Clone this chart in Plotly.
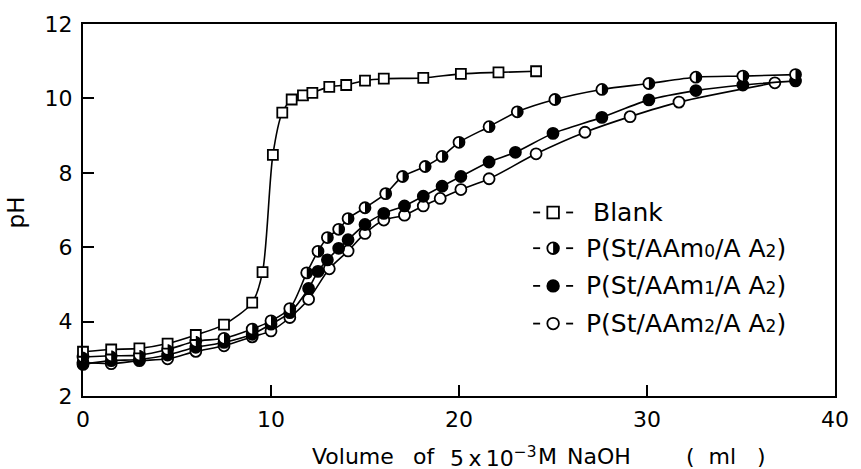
import plotly.graph_objects as go

# Titration of the copolymer solutions with 5x10^-3 M NaOH
blank_x = [0, 1.5, 3.0, 4.5, 6.0, 7.5, 9.0, 9.55, 10.1, 10.6, 11.1, 11.7, 12.2,
           13.1, 14.0, 15.0, 16.0, 18.1, 20.1, 22.1, 24.1]
blank_y = [3.19, 3.25, 3.28, 3.41, 3.64, 3.92, 4.51, 5.33, 8.48, 9.62, 9.97, 10.08,
           10.15, 10.31, 10.36, 10.48, 10.53, 10.55, 10.66, 10.70, 10.73]

p0_x = [0, 1.5, 3.0, 4.5, 6.0, 7.5, 9.0, 10.0, 11.0, 11.9, 12.5, 13.0, 13.6, 14.1,
        15.0, 16.1, 17.0, 18.2, 19.1, 20.0, 21.6, 23.1, 25.1, 27.6, 30.1, 32.6,
        35.1, 37.9]
p0_y = [3.05, 3.08, 3.10, 3.25, 3.47, 3.55, 3.80, 4.02, 4.35, 5.31, 5.89, 6.26,
        6.48, 6.77, 7.06, 7.44, 7.90, 8.17, 8.44, 8.82, 9.24, 9.64, 9.97, 10.24,
        10.40, 10.57, 10.60, 10.64]

p1_x = [0, 1.5, 3.0, 4.5, 6.0, 7.5, 9.0, 10.0, 11.0, 12.0, 12.5, 13.0, 13.6, 14.1,
        15.0, 16.0, 17.1, 18.1, 19.1, 20.1, 21.6, 23.0, 25.0, 27.6, 30.1, 32.6,
        35.1, 37.9]
p1_y = [2.85, 2.95, 2.98, 3.10, 3.31, 3.44, 3.66, 3.93, 4.24, 4.89, 5.35, 5.66,
        5.97, 6.20, 6.61, 6.91, 7.11, 7.37, 7.64, 7.90, 8.29, 8.55, 9.06, 9.49,
        9.96, 10.21, 10.36, 10.47]

p2_x = [0, 1.5, 3.0, 4.5, 6.0, 7.5, 9.0, 10.0, 11.0, 12.0, 13.1, 14.1, 15.0, 16.0,
        17.1, 18.1, 19.0, 20.1, 21.6, 24.1, 26.7, 29.1, 31.7, 36.8]
p2_y = [2.90, 2.87, 2.95, 3.00, 3.20, 3.35, 3.59, 3.75, 4.11, 4.60, 5.42, 5.90,
        6.37, 6.73, 6.86, 7.11, 7.31, 7.55, 7.84, 8.51, 9.09, 9.51, 9.90, 10.42]

x_ticks = [0, 10, 20, 30, 40]
y_ticks = [2, 4, 6, 8, 10, 12]

FONT = "DejaVu Sans"
W, H = 861, 469
ML, MR, MT, MB = 83, 15, 21, 73
PW, PH = W - ML - MR, H - MT - MB


def px(xp):
    return (xp - ML) / PW


def py(yp):
    return (H - MB - yp) / PH


def right_half_disc(r):
    k = 0.5523 * r
    return (f"M 0,{-r} C {k},{-r} {r},{-k} {r},0 "
            f"C {r},{k} {k},{r} 0,{r} Z")


MS = 11
line = dict(color="black", width=1.6, shape="spline", smoothing=0.8)
edge = dict(color="black", width=1.8)

fig = go.Figure()
fig.add_trace(go.Scatter(x=p2_x, y=p2_y, mode="lines+markers", line=line,
                         marker=dict(symbol="circle", size=MS, color="white", line=edge),
                         cliponaxis=False))
fig.add_trace(go.Scatter(x=p1_x, y=p1_y, mode="lines+markers", line=line,
                         marker=dict(symbol="circle", size=MS, color="black", line=edge),
                         cliponaxis=False))
fig.add_trace(go.Scatter(x=p0_x, y=p0_y, mode="lines+markers", line=line,
                         marker=dict(symbol="circle", size=MS, color="white", line=edge),
                         cliponaxis=False))
fig.add_trace(go.Scatter(x=blank_x, y=blank_y, mode="lines+markers", line=line,
                         marker=dict(symbol="square", size=10, color="white", line=edge),
                         cliponaxis=False))

shapes = []
# right half of each P(St/AAm0/AA2) marker is filled black
for xv, yv in zip(p0_x, p0_y):
    shapes.append(dict(type="path", xref="x", yref="y", xsizemode="pixel",
                       ysizemode="pixel", xanchor=xv, yanchor=yv,
                       path=right_half_disc(5.2), fillcolor="black",
                       line=dict(width=0), layer="above"))

axis_common = dict(showgrid=False, zeroline=False, showline=True, linecolor="black",
                   linewidth=2, mirror=True, ticks="inside", ticklen=11,
                   tickwidth=1.5, tickcolor="black",
                   tickfont=dict(family=FONT, size=22, color="black"))
fig.update_xaxes(range=[0, 40], tickvals=x_ticks, ticklabelstandoff=3, **axis_common)
fig.update_yaxes(range=[2, 12], tickvals=y_ticks, ticklabelstandoff=4, **axis_common)

ann = []
ann.append(dict(text="pH", x=px(16), y=py(211), textangle=-90, xanchor="center",
                yanchor="middle", font=dict(family=FONT, size=23)))
title_parts = [
    ("Volume", 313),
    ("of", 416),
    ("5\u2009x\u200910<sup>\u22123</sup>", 453),
    ("M", 543),
    ("NaOH", 572),
    ("(&nbsp;&nbsp;ml&nbsp;&nbsp;&nbsp;)", 693),
]
for txt, xl in title_parts:
    ann.append(dict(text=txt, x=px(xl), y=py(457), xanchor="left", yanchor="middle",
                    font=dict(family=FONT, size=22)))

SUB = "<span style='font-size:17px'>{}</span>"
legend_rows = [
    ("square", "Blank", 211, 598),
    ("half", "P(St/AAm" + SUB.format("0") + "/A A" + SUB.format("2") + ")", 247, 591),
    ("filled", "P(St/AAm" + SUB.format("1") + "/A A" + SUB.format("2") + ")", 285, 591),
    ("open", "P(St/AAm" + SUB.format("2") + "/A A" + SUB.format("2") + ")", 323, 591),
]
KX = 560
for kind, label, yy, xx in legend_rows:
    ann.append(dict(text=label, x=px(xx), y=py(yy), xanchor="left", yanchor="middle",
                    font=dict(family=FONT, size=25)))
    base = dict(xref="paper", yref="paper", xsizemode="pixel", ysizemode="pixel",
                xanchor=px(KX), yanchor=py(yy))
    for x0, x1 in ((-20, -13), (13, 20)):
        shapes.append(dict(type="line", x0=x0, x1=x1, y0=0, y1=0,
                           line=dict(color="black", width=1.8), **base))
    r = 5.8
    if kind == "square":
        shapes.append(dict(type="rect", x0=-r, x1=r, y0=-r, y1=r, fillcolor="white",
                           line=dict(color="black", width=1.8), **base))
    else:
        fill = "black" if kind == "filled" else "white"
        shapes.append(dict(type="circle", x0=-r, x1=r, y0=-r, y1=r, fillcolor=fill,
                           line=dict(color="black", width=1.8), **base))
        if kind == "half":
            shapes.append(dict(type="path", path=right_half_disc(r), fillcolor="black",
                               line=dict(width=0), **base))

for a in ann:
    a.update(xref="paper", yref="paper", showarrow=False)
    a["font"]["color"] = "black"

fig.update_layout(width=W, height=H, margin=dict(l=ML, r=MR, t=MT, b=MB),
                  paper_bgcolor="white", plot_bgcolor="white", showlegend=False,
                  annotations=ann, shapes=shapes)

fig.write_html("out.html")
